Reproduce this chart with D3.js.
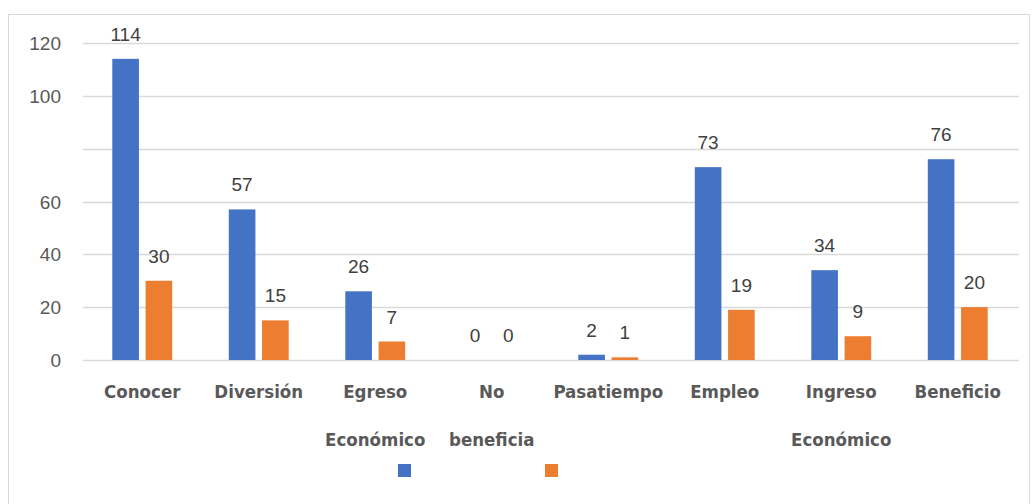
<!DOCTYPE html>
<html><head><meta charset="utf-8">
<script src="https://cdn.jsdelivr.net/npm/d3@7"></script>
<style>body{margin:0;background:#fff}svg{display:block}</style>
</head><body><svg id="c" width="1032" height="504"></svg>
<script>
const categories = [["Conocer"],["Diversión"],["Egreso","Económico"],["No","beneficia"],["Pasatiempo"],["Empleo"],["Ingreso","Económico"],["Beneficio"]];
const seriesA = [114,57,26,0,2,73,34,76];
const seriesB = [30,15,7,0,1,19,9,20];
const tickValues = [0,20,40,60,80,100,120];
const tickLabels = ["0","20","40","60","","100","120"];
const colors = ["#4472C4","#ED7D31"];

const svg = d3.select("#c");
svg.append("rect").attr("x",8.5).attr("y",14.5).attr("width",1021).attr("height",500)
  .attr("fill","#fff").attr("stroke","#d9d9d9");

const x = d3.scaleBand().domain(d3.range(categories.length)).range([84,1016]);
const y = d3.scaleLinear().domain([0,120]).range([360,43]);
const inner = d3.scaleBand().domain([0,1]).range([0,x.bandwidth()]).paddingInner(0.2).paddingOuter(0.85);

svg.append("g").selectAll("line").data(tickValues).join("line")
  .attr("x1",83).attr("x2",1019).attr("y1",d=>Math.round(y(d))+0.5).attr("y2",d=>Math.round(y(d))+0.5)
  .attr("stroke","#d9d9d9").attr("stroke-width",1.5);

svg.append("g").selectAll("text").data(tickValues).join("text")
  .attr("x",61).attr("y",d=>y(d)+7).attr("text-anchor","end")
  .attr("font-family","Liberation Sans, Arial, sans-serif").attr("font-size",19).attr("fill","#595959")
  .text((d,i)=>tickLabels[i]);

[seriesA,seriesB].forEach((s,si)=>{
  const g = svg.append("g");
  g.selectAll("rect").data(s).join("rect")
    .attr("x",(d,i)=>x(i)+inner(si)).attr("width",inner.bandwidth())
    .attr("y",d=>y(d)).attr("height",d=>y(0)-y(d)).attr("fill",colors[si]);
  g.selectAll("text").data(s).join("text")
    .attr("x",(d,i)=>x(i)+inner(si)+inner.bandwidth()/2).attr("y",d=>y(d)-18)
    .attr("text-anchor","middle")
    .attr("font-family","Liberation Sans, Arial, sans-serif").attr("font-size",19).attr("fill","#404040")
    .text(d=>d);
});

const xl = svg.append("g");
categories.forEach((lines,i)=>{
  lines.forEach((t,j)=>{
    xl.append("text").attr("x",x(i)+x.bandwidth()/2).attr("y",398+j*48)
      .attr("text-anchor","middle").attr("font-family","DejaVu Sans Condensed, DejaVu Sans, sans-serif")
      .attr("font-weight","bold").attr("font-size",18.5).attr("fill","#595959").text(t);
  });
});

const legendX = [398,545];
svg.append("g").selectAll("rect").data(colors).join("rect")
  .attr("x",(d,i)=>legendX[i]).attr("y",464).attr("width",13).attr("height",13).attr("fill",d=>d);
</script></body></html>
